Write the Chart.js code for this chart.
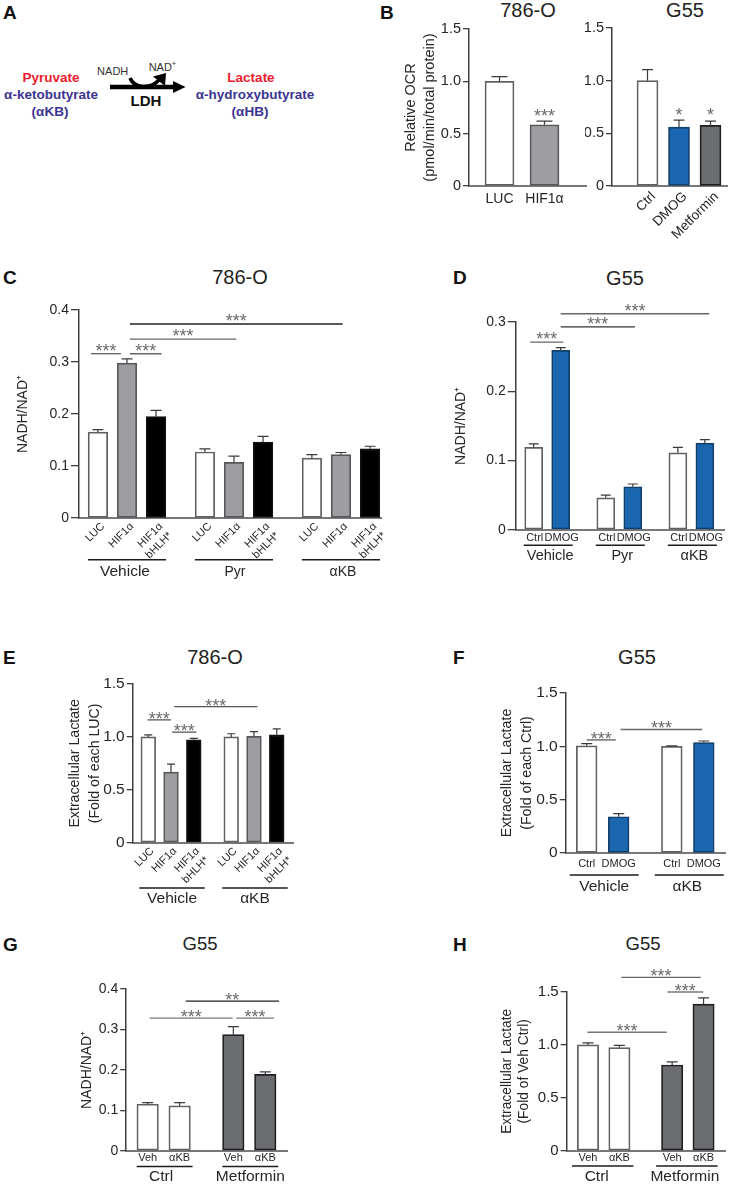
<!DOCTYPE html>
<html><head><meta charset="utf-8">
<script src="https://cdn.jsdelivr.net/npm/chart.js@4"></script>
<style>
html,body{margin:0;padding:0;background:#fff;}
body{position:relative;width:733px;height:1184px;overflow:hidden;font-family:"Liberation Sans",Arial,sans-serif;color:#222;}
canvas{position:absolute;display:block;}
.t{position:absolute;transform:translate(-50%,-50%);white-space:nowrap;line-height:1;}
.letter{position:absolute;font-weight:bold;font-size:19px;line-height:1;color:#111;}
.title{font-size:20px;color:#222;}
.red{color:#ed1c2e;font-weight:bold;font-size:13.5px;}
.pur{color:#3b3491;font-weight:bold;font-size:13.5px;}
sup{font-size:70%;line-height:0;}
</style></head><body>
<script>
// ---------- data ----------
const b1Labels=['LUC','HIF1α'];
const b1Values=[1.0,0.585];
const b1Errors=[0.045,0.035];
const b2Labels=['Ctrl','DMOG','Metformin'];
const b2Values=[1.0,0.56,0.575];
const b2Errors=[0.105,0.065,0.04];

const hifLabels=['LUC','HIF1α',['HIF1α','bHLH*']];
const cLabels=[...hifLabels,...hifLabels,...hifLabels];
const cGroups=['Vehicle','Pyr','αKB'];
const cValues=[0.165,0.298,0.195,0.127,0.107,0.146,0.115,0.122,0.133];
const cErrors=[0.005,0.008,0.012,0.006,0.012,0.011,0.007,0.004,0.005];
const cBrackets=[[-0.24,0.79,0.316,'***','#666'],[1.10,2.19,0.316,'***','#666'],[1.10,4.76,0.344,'***','#666'],[1.10,8.42,0.373,'***','#222']];

const dLabels=['Ctrl','DMOG','Ctrl','DMOG','Ctrl','DMOG'];
const dGroups=['Vehicle','Pyr','αKB'];
const dValues=[0.119,0.259,0.046,0.062,0.111,0.125];
const dErrors=[0.005,0.004,0.004,0.004,0.008,0.005];
const dBrackets=[[-0.13,1.10,0.271,'***','#666'],[1.0,3.75,0.293,'***','#333'],[1.0,6.50,0.312,'***','#666']];

const eLabels=[...hifLabels,...hifLabels];
const eGroups=['Vehicle','αKB'];
const eValues=[1.0,0.668,0.972,1.0,1.005,1.02];
const eErrors=[0.02,0.075,0.015,0.03,0.045,0.055];
const eBrackets=[[-0.03,1.0,1.161,'***','#666'],[1.05,2.12,1.045,'***','#666'],[1.14,4.80,1.286,'***','#555']];

const fLabels=['Ctrl','DMOG','Ctrl','DMOG'];
const fGroups=['Vehicle','αKB'];
const fValues=[1.005,0.34,1.0,1.035];
const fErrors=[0.02,0.03,0.005,0.015];
const fBrackets=[[0,0.91,1.06,'***','#666'],[1.06,3.61,1.158,'***','#666']];

const vehLabels=['Veh','αKB','Veh','αKB'];
const metGroups=['Ctrl','Metformin'];
const gValues=[0.115,0.111,0.287,0.189];
const gErrors=[0.004,0.008,0.02,0.006];
const gBrackets=[[0.06,2.66,0.328,'***','#777'],[2.77,3.95,0.328,'***','#777'],[1.19,4.11,0.370,'**','#222']];
const hValues=[1.0,0.975,0.81,1.385];
const hErrors=[0.02,0.02,0.03,0.06];
const hBrackets=[[-0.02,2.51,1.12,'***','#777'],[2.53,3.67,1.5,'***','#777'],[1.06,3.59,1.638,'***','#666']];

// ---------- styles ----------
const WHITE=['#ffffff','#5f6062'], GREY=['#9d9da2','#565759'], BLACK=['#000000','#111111'],
      BLUE=['#1a67b0','#123f6b'], DARK=['#6c6d70','#1f1f1f'];
const AXIS='#3f3f3f', BASE='#77787a', TEXT='#262626';

// ---------- html text ----------
function txt(s,x,y,cls,extra){const d=document.createElement('div');d.className='t '+(cls||'');d.innerHTML=s;d.style.left=x+'px';d.style.top=y+'px';if(extra)d.style.cssText+=extra;document.body.appendChild(d);return d;}
function letter(s,x,y){const d=document.createElement('div');d.className='letter';d.textContent=s;d.style.left=x+'px';d.style.top=y+'px';document.body.appendChild(d);}
[['A',3,3],['B',380,3],['C',3,268],['D',453,268],['E',3,648],['F',453,648],['G',3,935],['H',453,935]].forEach(a=>letter(...a));

txt('Pyruvate',51,78,'red');txt('α-ketobutyrate',51,95,'pur');txt('(αKB)',50,112,'pur');
txt('Lactate',251,78,'red');txt('α-hydroxybutyrate',255,95,'pur');txt('(αHB)',250,112,'pur');
txt('NADH',112.7,71,'','font-size:11px;color:#333');
txt('NAD<sup>+</sup>',162.5,66.5,'','font-size:11px;color:#333');
txt('LDH',146,100,'','font-size:15px;font-weight:bold;color:#111');
const svg=document.createElementNS('http://www.w3.org/2000/svg','svg');
svg.setAttribute('width','200');svg.setAttribute('height','110');svg.style.cssText='position:absolute;left:0;top:0';
svg.innerHTML='<path d="M110 87 H176" stroke="#000" stroke-width="4.4" fill="none"/><path d="M173 81 L185.5 87 L173 93 Z" fill="#000"/>'+
 '<path d="M130 78 C134 88 150 90 159 80" stroke="#000" stroke-width="3.6" fill="none"/><path d="M153 76.5 L166 73 L165 86 Z" fill="#000"/>';
document.body.appendChild(svg);

[['786-O',528,10],['G55',685,10],['786-O',240,277],['G55',625,278],['786-O',215,657],['G55',637,657]].forEach(a=>txt(a[0],a[1],a[2],'title'));
[['G55',200,944],['G55',643,944]].forEach(a=>txt(a[0],a[1],a[2],'title','font-size:18.5px'));

// ---------- chart builder ----------
const overlay={id:'overlay',afterDatasetsDraw(chart,args,o){
  const p=o.p,ctx=chart.ctx,xs=chart.scales.x,ys=chart.scales.y;
  ctx.save();
  ctx.strokeStyle='#3a3a3a';ctx.lineWidth=1.2;
  p.values.forEach((v,i)=>{
    const x=xs.getPixelForValue(p.xs[i]),y0=ys.getPixelForValue(v),y1=ys.getPixelForValue(v+p.errors[i]),c=p.capW/2;
    ctx.beginPath();ctx.moveTo(x,y0);ctx.lineTo(x,y1);ctx.moveTo(x-c,y1);ctx.lineTo(x+c,y1);ctx.stroke();
  });
  (p.brackets||[]).forEach(b=>{
    const x0=xs.getPixelForValue(b[0]),x1=xs.getPixelForValue(b[1]),y=ys.getPixelForValue(b[2]);
    if(b[1]!==b[0]){ctx.strokeStyle=b[4];ctx.lineWidth=1.4;ctx.beginPath();ctx.moveTo(x0,y);ctx.lineTo(x1,y);ctx.stroke();}
    ctx.fillStyle='#6a6a6a';ctx.font=(p.starSize||18)+'px "Liberation Sans"';ctx.textAlign='center';ctx.textBaseline='alphabetic';
    ctx.fillText(b[3],(x0+x1)/2,y+(p.starDy===undefined?6:p.starDy));
  });
  if(p.groups){
    let k=0;
    p.groups.forEach((g,gi)=>{
      const n=p.groupSizes[gi];
      const a=xs.getPixelForValue(p.xs[k])-p.groupPad[0],b=xs.getPixelForValue(p.xs[k+n-1])+p.groupPad[1];
      k+=n;
      ctx.strokeStyle='#1c1c1c';ctx.lineWidth=1.5;ctx.beginPath();ctx.moveTo(a,p.groupY-p.top);ctx.lineTo(b,p.groupY-p.top);ctx.stroke();
      ctx.fillStyle=TEXT;ctx.font=(p.groupFont[gi]||p.groupFont[0])+'px "Liberation Sans"';ctx.textAlign='center';ctx.textBaseline='middle';
      ctx.fillText(g,(a+b)/2+(p.groupDx?p.groupDx[gi]:0),p.groupTextY-p.top);
    });
  }
  ctx.restore();
}};

function panel(p){
  p.xs=[];let x=0;(p.groupSizes||[p.values.length]).forEach(n=>{for(let i=0;i<n;i++){p.xs.push(x);x+=1;}x+=p.gap-1;});
  p.top=p.yTop-p.headroom;
  const right=Math.min(733,p.axisEnd+(p.rightPad||8));
  const c=document.createElement('canvas');c.width=right-p.left;c.height=p.bottom-p.top;
  c.style.left=p.left+'px';c.style.top=p.top+'px';document.body.appendChild(c);
  const lookup=new Map(p.xs.map((v,i)=>[v,p.labels[i]]));
  new Chart(c,{type:'bar',
    data:{datasets:[{data:p.xs.map((v,i)=>({x:v,y:p.values[i]})),
      backgroundColor:p.styles.map(s=>s[0]),borderColor:p.styles.map(s=>s[1]),
      borderWidth:1.7,barThickness:p.thick,borderSkipped:false}]},
    plugins:[overlay],
    options:{responsive:false,animation:false,devicePixelRatio:1,
      layout:{padding:{top:p.headroom,right:right-p.axisEnd,left:0,bottom:0}},
      plugins:{legend:{display:false},tooltip:{enabled:false},overlay:{p}},
      scales:{
        x:{type:'linear',offset:false,min:(p.axisX-p.first)/p.pitch,max:(p.axisEnd-p.first)/p.pitch,
          afterBuildTicks(s){s.ticks=p.xs.map(v=>({value:v}));},
          afterFit(s){s.height=p.bottom-p.yZero;},
          border:{display:true,color:BASE,width:2},
          grid:{display:true,offset:false,drawOnChartArea:false,drawTicks:false,color:'rgba(0,0,0,0)'},
          ticks:{autoSkip:false,maxRotation:p.rot||0,minRotation:p.rot||0,padding:p.xPad,labelOffset:p.labelOffset||0,
            color:TEXT,font:{size:p.xFont,family:'"Liberation Sans"',lineHeight:p.xLine||1.15},
            callback(v){return lookup.get(v);}}},
        y:{min:0,max:p.yMax,
          afterFit(s){s.width=p.axisX-p.left;},
          border:{display:true,color:AXIS,width:1.5},
          grid:{display:true,drawOnChartArea:false,drawTicks:true,tickLength:p.tick,color:AXIS,lineWidth:1.3},
          title:{display:true,text:p.yTitle,color:TEXT,padding:0,
            font:{size:p.yTitleFont,family:'"Liberation Sans"',lineHeight:p.yTitleLine}},
          ticks:{stepSize:p.yStep,padding:2,color:TEXT,font:{size:p.yFont,family:'"Liberation Sans"'},
            callback(v){return v===0?'0':v.toFixed(1);}}}
      }}});
}

panel({labels:b1Labels,values:b1Values,errors:b1Errors,styles:[WHITE,GREY],
  brackets:[[1,1,0.66,'***','']],starDy:5,
  yMax:1.5,yStep:0.5,yTitle:['Relative OCR','(pmol/min/total protein)'],yTitleFont:14.5,yTitleLine:1.28,yFont:14.5,tick:6,
  left:402,axisX:469,yTop:29,yZero:186,axisEnd:586,first:499.5,pitch:45,gap:1,thick:29,capW:16,headroom:25,bottom:215,xFont:14,xPad:5});
panel({labels:b2Labels,values:b2Values,errors:b2Errors,styles:[WHITE,BLUE,DARK],
  brackets:[[1,1,0.66,'*',''],[2,2,0.66,'*','']],starDy:5,
  yMax:1.5,yStep:0.5,yTitle:[''],yTitleFont:1,yTitleLine:1,yFont:14.5,tick:6,
  left:585,axisX:612,yTop:28,yZero:186,axisEnd:727,first:647.5,pitch:31.5,gap:1,thick:21,capW:11,headroom:24,bottom:245,xFont:13.5,xPad:3,rot:45,labelOffset:6});

panel({labels:cLabels,values:cValues,errors:cErrors,styles:[WHITE,GREY,BLACK,WHITE,GREY,BLACK,WHITE,GREY,BLACK],
  groupSizes:[3,3,3],groups:cGroups,groupFont:[15.5,14,14],groupDx:[-2,1,2],groupPad:[10,10],groupY:559.7,groupTextY:571.7,brackets:cBrackets,starDy:3,
  yMax:0.4,yStep:0.1,yTitle:['NADH/NAD⁺'],yTitleFont:14,yTitleLine:1.3,yFont:14,tick:8,
  left:14,axisX:79,yTop:310,yZero:518,axisEnd:383,first:98,pitch:29.2,gap:1.68,thick:19.5,capW:11,headroom:20,bottom:590,xFont:11,xPad:2,rot:45,labelOffset:5,xLine:1.2});

panel({labels:dLabels,values:dValues,errors:dErrors,styles:[WHITE,BLUE,WHITE,BLUE,WHITE,BLUE],
  groupSizes:[2,2,2],groups:dGroups,groupFont:[14.5],groupDx:[2,2,2],groupPad:[10,12],groupY:545,groupTextY:556,brackets:dBrackets,starDy:3,
  yMax:0.3,yStep:0.1,yTitle:['NADH/NAD⁺'],yTitleFont:14,yTitleLine:1.3,yFont:14,tick:8,
  left:452,axisX:515.7,yTop:321.7,yZero:529.7,axisEnd:724,first:533.7,pitch:27,gap:1.67,thick:18,capW:10,headroom:30,bottom:575,xFont:11,xPad:2,labelOffset:1});

panel({labels:eLabels,values:eValues,errors:eErrors,styles:[WHITE,GREY,BLACK,WHITE,GREY,BLACK],
  groupSizes:[3,3],groups:eGroups,groupFont:[15.5],groupPad:[9,11],groupY:888.3,groupTextY:898.7,brackets:eBrackets,starDy:5,
  yMax:1.5,yStep:0.5,yTitle:['Extracellular Lactate','(Fold of each LUC)'],yTitleFont:14.2,yTitleLine:1.41,yFont:15.5,tick:6,
  left:65,axisX:132.7,yTop:684.3,yZero:843.7,axisEnd:293.3,first:148.3,pitch:22.8,gap:1.645,thick:14.7,capW:8,headroom:15,bottom:915,xFont:11,xPad:2,rot:45,labelOffset:4,xLine:1.2});

panel({labels:fLabels,values:fValues,errors:fErrors,styles:[WHITE,BLUE,WHITE,BLUE],
  groupSizes:[2,2],groups:fGroups,groupFont:[15.5],groupDx:[0,-2],groupPad:[17,20],groupY:875.3,groupTextY:886.7,brackets:fBrackets,starDy:5,
  yMax:1.5,yStep:0.5,yTitle:['Extracellular Lactate','(Fold of each Ctrl)'],yTitleFont:14.2,yTitleLine:1.41,yFont:15.5,tick:6,
  left:497,axisX:565.7,yTop:693.3,yZero:854,axisEnd:725,first:586.7,pitch:32,gap:1.66,thick:20.7,capW:11,headroom:15,bottom:905,xFont:11,xPad:5});

panel({labels:vehLabels,values:gValues,errors:gErrors,styles:[WHITE,WHITE,DARK,DARK],
  groupSizes:[2,2],groups:metGroups,groupFont:[15.5],groupDx:[-3.5,0],groupPad:[11,13],groupY:1166.3,groupTextY:1176.7,brackets:gBrackets,starDy:5,
  yMax:0.4,yStep:0.1,yTitle:['NADH/NAD⁺'],yTitleFont:14,yTitleLine:1.3,yFont:14,tick:6,
  left:77.5,axisX:125.7,yTop:988.7,yZero:1150.7,axisEnd:286.7,first:147.2,pitch:32,gap:1.68,thick:21.5,capW:11,headroom:20,bottom:1184,xFont:11,xPad:1});

panel({labels:vehLabels,values:hValues,errors:hErrors,styles:[WHITE,WHITE,DARK,DARK],
  groupSizes:[2,2],groups:metGroups,groupFont:[15.5],groupDx:[-6,-2],groupPad:[16,14],groupY:1165.7,groupTextY:1176.7,brackets:hBrackets,starDy:5,
  yMax:1.5,yStep:0.5,yTitle:['Extracellular Lactate','(Fold of Veh Ctrl)'],yTitleFont:13.8,yTitleLine:1.27,yFont:15,tick:6,
  left:498,axisX:566.7,yTop:991.7,yZero:1150.7,axisEnd:725,first:588,pitch:31.4,gap:1.68,thick:21.3,capW:11,headroom:50,bottom:1184,xFont:11,xPad:1});
</script>
</body></html>
